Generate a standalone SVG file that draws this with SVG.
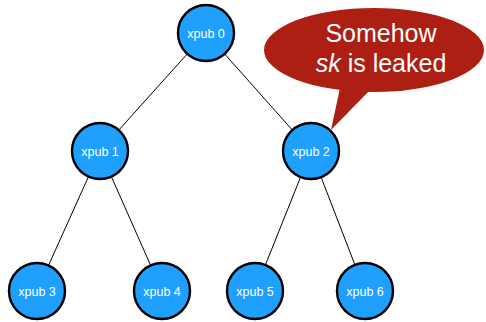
<svg xmlns="http://www.w3.org/2000/svg" width="486" height="322" viewBox="0 0 486 322">
  <style>
    .edge { stroke: #000; stroke-width: 1; fill: none; }
    .node circle { fill: #1fa0fd; stroke: #000; stroke-width: 2.4; }
    .node text { font-family: "Liberation Sans", Arial, sans-serif; font-size: 12.5px; fill: #fff; text-anchor: middle; }
    .bubble { fill: #ae1f13; }
    .bubble-text { font-family: "Liberation Sans", Arial, sans-serif; font-size: 25px; fill: #fff; text-anchor: middle; }
  </style>
  <rect width="486" height="322" fill="#fff"/>
  <g id="connectors">
    <line class="edge" x1="206" y1="33" x2="100" y2="151"/>
    <line class="edge" x1="206" y1="33" x2="311" y2="151"/>
    <line class="edge" x1="100" y1="151" x2="37" y2="291"/>
    <line class="edge" x1="100" y1="151" x2="162" y2="291"/>
    <line class="edge" x1="311" y1="151" x2="255" y2="291"/>
    <line class="edge" x1="311" y1="151" x2="365" y2="291"/>
  </g>
  <g id="callout">
    <ellipse class="bubble" cx="374" cy="50" rx="110" ry="42"/>
    <path class="bubble" d="M340,88 L331,130 L372,88 Z"/>
    <text class="bubble-text" x="381" y="42">Somehow</text>
    <text class="bubble-text" x="381" y="72"><tspan font-style="italic">sk</tspan> is leaked</text>
  </g>
  <g id="xpub0" class="node"><circle cx="206" cy="33" r="28"/><text x="206" y="38">xpub 0</text></g>
  <g id="xpub1" class="node"><circle cx="100" cy="151" r="28"/><text x="100" y="156">xpub 1</text></g>
  <g id="xpub2" class="node"><circle cx="311" cy="151" r="28"/><text x="311" y="156">xpub 2</text></g>
  <g id="xpub3" class="node"><circle cx="37" cy="291" r="28"/><text x="37" y="296">xpub 3</text></g>
  <g id="xpub4" class="node"><circle cx="162" cy="291" r="28"/><text x="162" y="296">xpub 4</text></g>
  <g id="xpub5" class="node"><circle cx="255" cy="291" r="28"/><text x="255" y="296">xpub 5</text></g>
  <g id="xpub6" class="node"><circle cx="365" cy="291" r="28"/><text x="365" y="296">xpub 6</text></g>
</svg>
